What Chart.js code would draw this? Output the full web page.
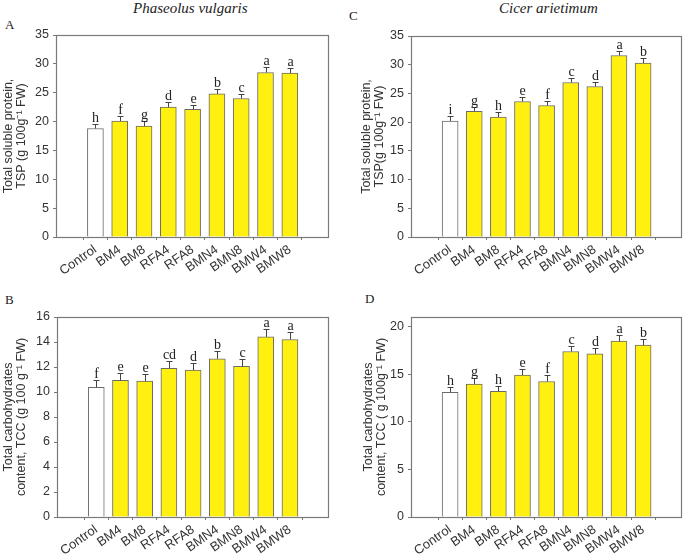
<!DOCTYPE html>
<html>
<head>
<meta charset="utf-8">
<script src="https://cdn.jsdelivr.net/npm/chart.js@4.4.1/dist/chart.umd.min.js"></script>
<style>
  body { margin: 0; background: #fff; }
  #wrap { position: relative; width: 685px; height: 554px; overflow: hidden; }
  .panel { position: absolute; }
  .sp { position: absolute; font: italic 15px "Liberation Serif", serif; line-height: 15px; color: #222; white-space: nowrap; }
  .lt { position: absolute; font: 13px "Liberation Serif", serif; line-height: 13px; color: #222; }
</style>
</head>
<body>
<div id="wrap">
  <div class="sp" style="left:133px;top:1px;">Phaseolus vulgaris</div>
  <div class="sp" style="left:499px;top:1px;">Cicer arietimum</div>
  <div class="lt" style="left:5px;top:18px;">A</div>
  <div class="lt" style="left:349px;top:9px;">C</div>
  <div class="lt" style="left:5px;top:293px;">B</div>
  <div class="lt" style="left:365px;top:292px;">D</div>
  <canvas id="chartA" class="panel" style="left:0;top:0;" width="342" height="277"></canvas>
  <canvas id="chartC" class="panel" style="left:342px;top:0;" width="343" height="277"></canvas>
  <canvas id="chartB" class="panel" style="left:0;top:277px;" width="342" height="277"></canvas>
  <canvas id="chartD" class="panel" style="left:342px;top:277px;" width="343" height="277"></canvas>
</div>
<script>
const categories = ['Control', 'BM4', 'BM8', 'RFA4', 'RFA8', 'BMN4', 'BMN8', 'BMW4', 'BMW8'];

// A - Phaseolus vulgaris, total soluble protein
const tspBean = [18.8, 20.1, 19.2, 22.5, 22.1, 24.8, 24.0, 28.5, 28.4];
const tspBeanErr = [0.75, 0.85, 0.9, 0.85, 0.85, 0.85, 0.8, 0.9, 0.85];
const tspBeanLetters = ['h', 'f', 'g', 'd', 'e', 'b', 'c', 'a', 'a'];

// C - Cicer arietimum, total soluble protein
const tspChickpea = [20.2, 21.9, 20.9, 23.6, 22.9, 26.9, 26.2, 31.6, 30.3];
const tspChickpeaErr = [0.8, 0.8, 0.8, 0.8, 0.8, 0.85, 0.8, 0.85, 0.85];
const tspChickpeaLetters = ['i', 'g', 'h', 'e', 'f', 'c', 'd', 'a', 'b'];

// B - Phaseolus vulgaris, total carbohydrates
const tccBean = [10.37, 10.93, 10.88, 11.9, 11.75, 12.66, 12.05, 14.41, 14.2];
const tccBeanErr = [0.59, 0.57, 0.58, 0.6, 0.59, 0.59, 0.61, 0.62, 0.59];
const tccBeanLetters = ['f', 'e', 'e', 'cd', 'd', 'b', 'c', 'a', 'a'];

// D - Cicer arietimum, total carbohydrates
const tccChickpea = [13.08, 13.95, 13.2, 14.9, 14.23, 17.38, 17.13, 18.46, 18.04];
const tccChickpeaErr = [0.6, 0.63, 0.6, 0.6, 0.63, 0.56, 0.6, 0.63, 0.63];
const tccChickpeaLetters = ['h', 'g', 'h', 'e', 'f', 'c', 'd', 'a', 'b'];

const sans = '"Liberation Sans", Arial, sans-serif';

// error caps + significance letters + frame
const errPlugin = {
  id: 'errbars',
  afterDatasetsDraw(chart, args, opts) {
    const ctx = chart.ctx;
    const ys = chart.scales.y;
    const meta = chart.getDatasetMeta(0);
    ctx.save();
    ctx.strokeStyle = '#444';
    ctx.lineWidth = 1;
    ctx.fillStyle = '#222';
    ctx.font = '14px "Liberation Serif", serif';
    ctx.textAlign = 'center';
    ctx.textBaseline = 'alphabetic';
    meta.data.forEach((bar, i) => {
      const x = Math.round(bar.x) + 0.5;
      const yTop = ys.getPixelForValue(opts.values[i]);
      const yErr = Math.round(ys.getPixelForValue(opts.values[i] + opts.errors[i])) + 0.5;
      ctx.beginPath();
      ctx.moveTo(x, yTop);
      ctx.lineTo(x, yErr);
      ctx.moveTo(x - 3, yErr);
      ctx.lineTo(x + 3, yErr);
      ctx.stroke();
      ctx.fillText(opts.letters[i], x, yErr - 3);
    });
    ctx.restore();
  },
  afterDraw(chart) {
    const { ctx, chartArea: a } = chart;
    ctx.save();
    ctx.strokeStyle = '#7a7a7a';
    ctx.lineWidth = 1.2;
    ctx.strokeRect(Math.round(a.left) + 0.5, Math.round(a.top) + 0.5,
      Math.round(a.right - a.left), Math.round(a.bottom - a.top));
    ctx.restore();
  }
};

function makeChart(id, values, errors, letters, yMax, yStep, title, box) {
  const canvas = document.getElementById(id);
  return new Chart(canvas, {
    type: 'bar',
    data: {
      datasets: [{
        data: values.map((v, i) => ({ x: i, y: v })),
        backgroundColor: categories.map(c => c === 'Control' ? '#ffffff' : '#fff010'),
        borderColor: '#6a6a6a',
        borderWidth: 1,
        barThickness: 16
      }]
    },
    options: {
      responsive: false,
      animation: false,
      layout: { padding: { left: 0, top: box.top, right: canvas.width - box.right, bottom: 0 } },
      plugins: {
        legend: { display: false },
        tooltip: { enabled: false },
        errbars: { values: values, errors: errors, letters: letters }
      },
      scales: {
        x: {
          type: 'linear',
          min: -1,
          max: 8.95,
          afterBuildTicks: s => { s.ticks = categories.map((c, i) => ({ value: i })); },
          afterFit: s => { s.height = canvas.height - box.bottom; },
          ticks: {
            autoSkip: false,
            minRotation: 35,
            maxRotation: 35,
            padding: 2,
            color: '#333',
            font: { family: sans, size: 13 },
            callback: v => categories[v]
          },
          grid: { display: true, drawOnChartArea: false, drawTicks: true, tickLength: 3, color: '#777' },
          border: { display: false }
        },
        y: {
          min: 0,
          max: yMax,
          afterFit: s => { s.width = box.left; },
          ticks: {
            stepSize: yStep,
            includeBounds: false,
            padding: 4,
            color: '#333',
            font: { family: sans, size: 12.5 }
          },
          grid: { display: true, drawOnChartArea: false, drawTicks: true, tickLength: 3, color: '#777' },
          border: { display: false },
          title: {
            display: true,
            text: title,
            color: '#333',
            font: { family: sans, size: 12.5, lineHeight: 1.08 },
            padding: { top: box.titlePad, bottom: 0 }
          }
        }
      }
    },
    plugins: [errPlugin]
  });
}

makeChart('chartA', tspBean, tspBeanErr, tspBeanLetters, 35, 5,
  ['Total soluble protein,', 'TSP (g 100g\u207B\u00B9 FW)'],
  { left: 56, right: 328, top: 35, bottom: 237, titlePad: 1.5 });

makeChart('chartC', tspChickpea, tspChickpeaErr, tspChickpeaLetters, 35, 5,
  ['Total soluble protein,', 'TSP(g 100g\u207B\u00B9 FW)'],
  { left: 69, right: 339, top: 36, bottom: 237, titlePad: 17.5 });

makeChart('chartB', tccBean, tccBeanErr, tccBeanLetters, 16, 2,
  ['Total carbohydrates', 'content, TCC (g 100 g\u207B\u00B9 FW)'],
  { left: 57, right: 328, top: 40, bottom: 240, titlePad: 1.5 });

makeChart('chartD', tccChickpea, tccChickpeaErr, tccChickpeaLetters, 21, 5,
  ['Total carbohydrates', 'content, TCC ( g 100g\u207B\u00B9 FW)'],
  { left: 69, right: 339, top: 40, bottom: 240, titlePad: 19.5 });
</script>
</body>
</html>
